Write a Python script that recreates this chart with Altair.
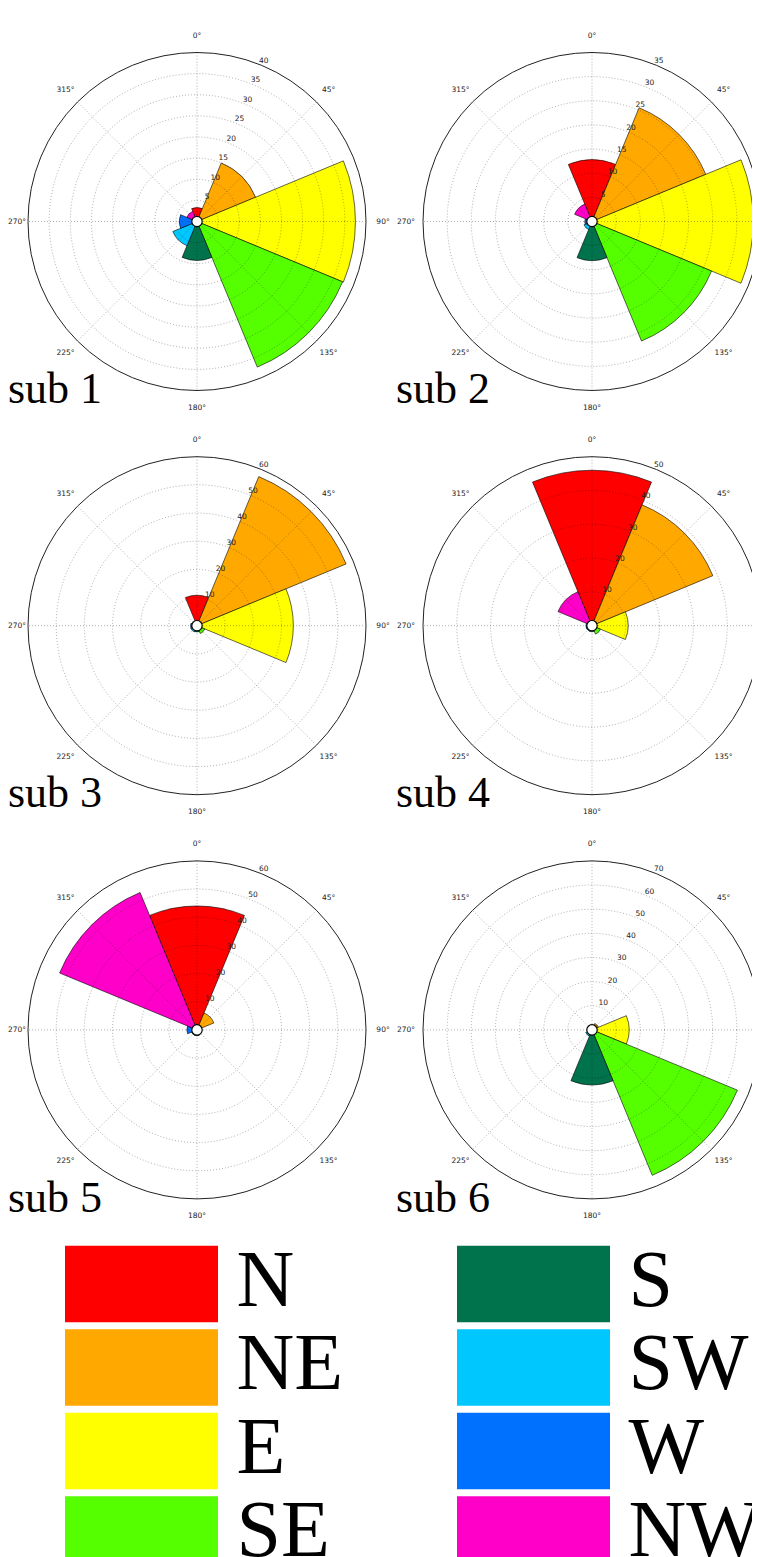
import math
import altair as alt
import pandas as pd

# ---------------- data ----------------
DIRS = ["N", "NE", "E", "SE", "S", "SW", "W", "NW"]
COLORS = ["#FF0000", "#FFA800", "#FFFF00", "#55FF00", "#00734C", "#00C8FF", "#0070FF", "#FF00C8"]
ANGLES = [0, 45, 90, 135, 180, 225, 270, 315]

SUB_NAMES = ["sub 1", "sub 2", "sub 3", "sub 4", "sub 5", "sub 6"]
SUB1 = [3.3, 15.0, 37.5, 37.3, 9.2, 6.2, 4.2, 2.6]
SUB2 = [12.8, 25.5, 33.4, 26.8, 8.1, 1.8, 1.5, 3.9]
SUB3 = [10.8, 57.3, 34.2, 3.0, 2.2, 2.4, 2.3, 0.5]
SUB4 = [46.0, 38.7, 10.7, 2.7, 1.8, 1.8, 1.8, 10.9]
SUB5 = [44.0, 6.5, 1.0, 1.0, 2.1, 2.1, 3.6, 52.8]
SUB6 = [1.0, 2.9, 15.4, 65.2, 22.8, 2.8, 1.0, 1.0]
SUBS = [SUB1, SUB2, SUB3, SUB4, SUB5, SUB6]

RMAX = [40, 35, 60, 50, 60, 70]
RSTEP = [5, 5, 10, 10, 10, 10]

# ---------------- layout / style ----------------
R_PX = 169
CX, CY = 189, 201.5
W_LEFT, W_RIGHT, H_PANEL, H_LEGEND = 378, 349, 403, 360
TWO_PI = 2 * math.pi

theta_scale = alt.Scale(domain=[0, 360], range=[0, TWO_PI])
color_scale = alt.Scale(domain=DIRS, range=COLORS)


def panel(i, left):
    rmax, step = RMAX[i], RSTEP[i]
    rscale = alt.Scale(type="linear", domain=[0, rmax], range=[0, R_PX], zero=True, nice=False)
    # circle diameter grows linearly with value -> symbol area as a square power
    dscale = alt.Scale(type="pow", exponent=2, domain=[0, rmax], range=[0, (2 * R_PX) ** 2])
    pos = dict(x=alt.value(CX), y=alt.value(CY))
    clip = not left

    bars_df = pd.DataFrame({"dir": DIRS, "angle": ANGLES, "value": SUBS[i]})
    ticks = list(range(step, rmax + 1, step))

    bars = alt.Chart(bars_df).transform_calculate(
        start="datum.angle - 22.5", end="datum.angle + 22.5"
    ).mark_arc(stroke="black", strokeWidth=0.6, clip=clip).encode(
        theta=alt.Theta("start:Q", scale=theta_scale, stack=None),
        theta2="end:Q",
        radius=alt.Radius("value:Q", scale=rscale),
        color=alt.Color("dir:N", scale=color_scale, legend=None),
        **pos,
    )

    rings = alt.Chart(pd.DataFrame({"ring": ticks[:-1]})).mark_point(
        shape="circle", filled=False, color="black", opacity=1, strokeOpacity=0.45,
        strokeWidth=0.7, strokeDash=[1, 2], clip=clip,
    ).encode(size=alt.Size("ring:Q", scale=dscale, legend=None), **pos)

    xs = alt.Scale(domain=[-1, 1], range=[CX - R_PX, CX + R_PX])
    ys = alt.Scale(domain=[-1, 1], range=[CY + R_PX, CY - R_PX])
    spokes = alt.Chart(pd.DataFrame({"a": [0, 45, 90, 135]})).transform_calculate(
        sx="sin(datum.a*PI/180)", sy="cos(datum.a*PI/180)",
        ex="-sin(datum.a*PI/180)", ey="-cos(datum.a*PI/180)",
    ).mark_rule(color="black", strokeOpacity=0.45, strokeWidth=0.7, strokeDash=[1, 2], clip=clip).encode(
        x=alt.X("sx:Q", scale=xs, axis=None),
        y=alt.Y("sy:Q", scale=ys, axis=None),
        x2="ex:Q",
        y2="ey:Q",
    )

    outer = alt.Chart(pd.DataFrame({"ring": [rmax]})).mark_point(
        shape="circle", filled=False, color="#222222", opacity=1, strokeWidth=1.0, clip=clip,
    ).encode(size=alt.Size("ring:Q", scale=dscale, legend=None), **pos)

    hole = alt.Chart(pd.DataFrame({"h": [0]})).mark_arc(
        theta=0, theta2=TWO_PI, fill="white", stroke="black", strokeWidth=1.2,
    ).encode(radius=alt.value(5.2), **pos)

    lab_base = alt.Chart(pd.DataFrame({"angle": ANGLES})).transform_calculate(
        label="datum.angle + '°'"
    )
    txt_style = dict(fontSize=7.5, font="DejaVu Sans", color="#222222", baseline="middle")
    theta_enc = alt.Theta("angle:Q", scale=theta_scale, stack=None)
    if left:
        ang = lab_base.transform_filter("datum.angle != 270").mark_text(
            align="center", **txt_style
        ).encode(theta=theta_enc, radius=alt.value(186), text="label:N", **pos)
        ang270 = lab_base.transform_filter("datum.angle == 270").mark_text(
            align="left", **txt_style
        ).encode(theta=theta_enc, radius=alt.value(CX), text="label:N", **pos)
    else:
        # 90° lies beyond the right edge of the page in the reference
        ang = lab_base.transform_filter("datum.angle != 270 && datum.angle != 90").mark_text(
            align="center", clip=True, **txt_style
        ).encode(theta=theta_enc, radius=alt.value(186), text="label:N", **pos)
        ang270 = lab_base.transform_filter("datum.angle == 270").mark_text(
            align="center", **txt_style
        ).encode(theta=theta_enc, radius=alt.value(186), text="label:N", **pos)
    angle_layers = [ang, ang270]

    rlabels = alt.Chart(pd.DataFrame({"value": ticks})).mark_text(
        align="center", dx=2, dy=-4.5, theta=math.radians(22.5), **txt_style
    ).encode(radius=alt.Radius("value:Q", scale=rscale), text=alt.Text("value:Q"), **pos)

    sub = alt.Chart(pd.DataFrame({"name": [SUB_NAMES[i]]})).mark_text(
        font="Liberation Serif", fontSize=44, align="left", baseline="alphabetic", color="black"
    ).encode(text="name:N", x=alt.value(0 if left else -7), y=alt.value(CY + 181.7))

    layers = [bars, rings, spokes, outer, hole] + angle_layers + [rlabels, sub]
    return alt.layer(*layers).properties(
        width=W_LEFT if left else W_RIGHT, height=H_PANEL
    )


# ---------------- legend panels ----------------
def legend_panel(col, width, xcenter):
    base = alt.Chart(pd.DataFrame({"dir": DIRS})).transform_window(
        idx="row_number()"
    ).transform_calculate(
        col="floor((datum.idx - 1) / 4)", row="(datum.idx - 1) % 4"
    ).transform_filter(f"datum.col == {col}")
    lx = alt.X("col:Q", scale=alt.Scale(domain=[col - 1, col + 1], range=[xcenter - 200, xcenter + 200]), axis=None)
    ly = alt.Y("row:Q", scale=alt.Scale(domain=[0, 3], range=[51.4, 301.9]), axis=None)
    sw = base.mark_rect(width=153, height=76.5, clip=True).encode(
        x=lx, y=ly, color=alt.Color("dir:N", scale=color_scale, legend=None)
    )
    tx = base.mark_text(
        align="left", baseline="alphabetic", dx=95, dy=22, font="Liberation Serif",
        fontSize=80, color="black", clip=True,
    ).encode(x=lx, y=ly, text="dir:N")
    return alt.layer(sw, tx).properties(width=width, height=H_LEGEND)


panels = []
for k in range(6):
    panels.append(panel(k, k % 2 == 0))
panels.append(legend_panel(0, W_LEFT, 133.5))
panels.append(legend_panel(1, W_RIGHT, 130.5))

chart = alt.concat(
    *panels, columns=2, spacing={"row": 1.2, "column": 17}, bounds="flush", align="each"
).resolve_scale(
    radius="independent", theta="independent", x="independent", y="independent",
    size="independent",
).properties(
    padding={"left": 0, "top": 12, "right": 0, "bottom": 0}
).configure_view(stroke=None)

chart.save("out.html", embed_options={"renderer": "svg", "actions": False})
